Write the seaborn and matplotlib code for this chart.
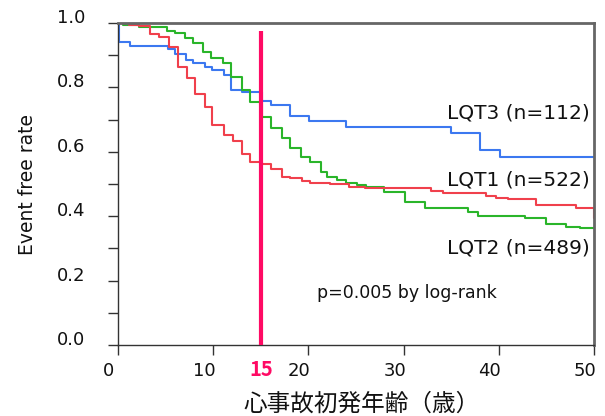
import numpy as np
import pandas as pd
import matplotlib
matplotlib.use("Agg")
import matplotlib.pyplot as plt
import matplotlib.transforms as mtransforms
import seaborn as sns

# step data (age in years, event free rate)
lqt3_t = [0, 0.1, 1.3, 5.3, 6.0, 7.1, 7.9, 9.1, 9.9, 11.1, 11.9, 13.0, 15.1, 16.1,
          18.1, 20.1, 24.0, 35.0, 38.0, 40.1, 50]
lqt3_v = [1.0, 0.942, 0.929, 0.918, 0.904, 0.885, 0.875, 0.862, 0.854, 0.839, 0.792,
          0.785, 0.759, 0.745, 0.711, 0.696, 0.678, 0.657, 0.606, 0.583, 0.583]

lqt2_t = [0, 0.5, 2.2, 5.1, 6.0, 7.0, 7.9, 8.9, 9.8, 11.0, 11.9, 13.0, 13.9, 15.1,
          16.1, 17.2, 18.1, 19.2, 20.2, 21.3, 22.0, 23.0, 24.0, 25.1, 26.1, 27.9,
          30.1, 32.2, 36.8, 37.8, 42.8, 45.0, 47.1, 48.5, 50]
lqt2_v = [1.0, 0.994, 0.987, 0.976, 0.968, 0.952, 0.937, 0.911, 0.890, 0.877, 0.833,
          0.792, 0.756, 0.709, 0.673, 0.642, 0.611, 0.585, 0.569, 0.538, 0.523, 0.512,
          0.504, 0.498, 0.492, 0.476, 0.445, 0.425, 0.414, 0.401, 0.393, 0.375, 0.367,
          0.364, 0.364]

lqt1_t = [0, 1.2, 2.2, 3.4, 4.3, 5.4, 6.3, 7.2, 8.1, 9.1, 9.9, 11.1, 12.1, 13.0, 13.9,
          15.1, 16.1, 17.2, 18.1, 19.3, 20.2, 22.3, 24.3, 25.9, 32.9, 34.1, 38.7, 39.7,
          41.0, 43.9, 48.1, 49.95, 50]
lqt1_v = [1.0, 0.994, 0.99, 0.966, 0.955, 0.926, 0.864, 0.828, 0.781, 0.740, 0.683,
          0.652, 0.634, 0.593, 0.569, 0.562, 0.546, 0.523, 0.518, 0.510, 0.504, 0.499,
          0.492, 0.487, 0.478, 0.471, 0.463, 0.458, 0.452, 0.435, 0.425, 0.394, 0.394]

labels = ["LQT3 (n=112)", "LQT1 (n=522)", "LQT2 (n=489)"]
label_y = [0.72, 0.512, 0.30]
colors = {"LQT3": "#3c78f0", "LQT2": "#2ab52a", "LQT1": "#f0404c"}

df = pd.concat([
    pd.DataFrame({"age": lqt3_t, "rate": lqt3_v, "type": "LQT3"}),
    pd.DataFrame({"age": lqt2_t, "rate": lqt2_v, "type": "LQT2"}),
    pd.DataFrame({"age": lqt1_t, "rate": lqt1_v, "type": "LQT1"}),
], ignore_index=True)

sns.set_style("ticks")
plt.rcParams["font.family"] = "DejaVu Sans"

fig = plt.figure(figsize=(6.05, 4.16), dpi=100)
ax = fig.add_axes([118 / 605, 1 - 345 / 416, 476 / 605, 322 / 416])

sns.lineplot(data=df, x="age", y="rate", hue="type", palette=colors,
             estimator=None, drawstyle="steps-post", linewidth=1.5,
             legend=False, ax=ax)

ax.vlines(15, 0, 0.975, color="#ff0a64", linewidth=3, zorder=5)

ax.set_xlim(0, 50)
ax.set_ylim(0, 1.0)
ax.set_xticks([0, 10, 20, 30, 40, 50])
ax.set_yticks(np.arange(0, 1.01, 0.2))
ax.set_yticks(np.arange(0.1, 1.0, 0.2), minor=True)
ax.set_yticklabels(["0.0", "0.2", "0.4", "0.6", "0.8", "1.0"])
ax.tick_params(axis="both", which="both", length=7.5, width=1, color="#333333",
               labelsize=13, direction="out", labelcolor="#111111")
ax.tick_params(axis="y", pad=16)
ax.tick_params(axis="x", pad=5)

for lab in ax.get_yticklabels():
    lab.set_transform(lab.get_transform() +
                      mtransforms.ScaledTranslation(0, 7 / 100, fig.dpi_scale_trans))
for lab in ax.get_xticklabels():
    lab.set_transform(lab.get_transform() +
                      mtransforms.ScaledTranslation(-9 / 100, 0, fig.dpi_scale_trans))

for side in ["left", "bottom"]:
    ax.spines[side].set_color("#333333")
    ax.spines[side].set_linewidth(1)
for side in ["top", "right"]:
    ax.spines[side].set_visible(True)
    ax.spines[side].set_color("#666666")
    ax.spines[side].set_linewidth(2)

ax.set_ylabel("Event free rate", fontsize=13.5, labelpad=14, color="#111111")
ax.set_xlabel("心事故初発年齢（歳）", fontsize=17, family=["Noto Sans CJK JP"],
              color="#111111")
ax.xaxis.set_label_coords(0.512, -0.148)

for lab, yy in zip(labels, label_y):
    ax.text(49.6, yy, lab, ha="right", va="center", fontsize=14.5,
            color="#111111")

ax.text(30.3, 0.161, "p=0.005 by log-rank", ha="center", va="center",
        fontsize=12.5, color="#111111")

ax.text(15, -0.075, "15", ha="center", va="center", fontsize=14.5,
        color="#ff0a64", family=["Noto Sans CJK JP"], fontweight="bold")

fig.savefig("out.png", dpi=100)
